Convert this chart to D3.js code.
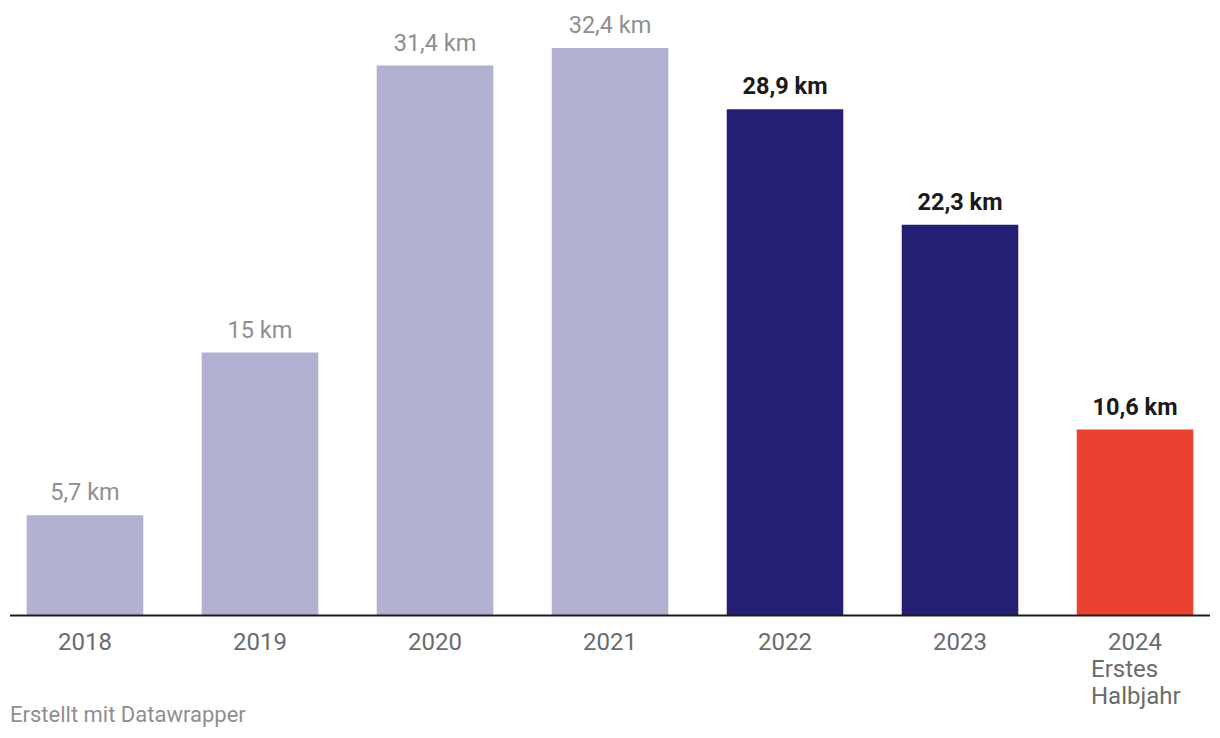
<!DOCTYPE html>
<html><head><meta charset="utf-8">
<script src="https://cdn.jsdelivr.net/npm/d3@7"></script>
<style>body{margin:0;background:#fff}svg{display:block;font-family:Roboto,sans-serif}</style>
</head><body><svg id="c" width="1220" height="738"></svg>
<script>
const years = ["2018","2019","2020","2021","2022","2023","2024"];
const values = [5.7, 15, 31.4, 32.4, 28.9, 22.3, 10.6];
const valueLabels = ["5,7 km","15 km","31,4 km","32,4 km","28,9 km","22,3 km","10,6 km"];
const groups = ["past","past","past","past","recent","recent","current"];
const subLabels = {"2024": ["Erstes","Halbjahr"]};
const colors = {past:"#b3b1d1", recent:"#251f73", current:"#e94230"};

const svg = d3.select("#c");
const x = d3.scaleBand().domain(years).range([10,1210]).paddingInner(0.334).paddingOuter(0.0955);
const y = d3.scaleLinear().domain([0,32.4]).range([615,48]);

svg.selectAll("rect.bar").data(years).enter().append("rect")
  .attr("class","bar")
  .attr("x",d=>x(d)).attr("width",x.bandwidth())
  .attr("y",(d,i)=>y(values[i])).attr("height",(d,i)=>y(0)-y(values[i]))
  .attr("fill",(d,i)=>colors[groups[i]]);

svg.selectAll("text.val").data(years).enter().append("text")
  .attr("x",d=>x(d)+x.bandwidth()/2).attr("y",(d,i)=>y(values[i])-15)
  .attr("text-anchor","middle").attr("font-size",23.5)
  .attr("font-weight",(d,i)=>groups[i]==="past"?400:700)
  .attr("fill",(d,i)=>groups[i]==="past"?"#8f8f8f":"#1a1a1a")
  .text((d,i)=>valueLabels[i]);

svg.append("line").attr("x1",10).attr("x2",1210).attr("y1",615.5).attr("y2",615.5)
  .attr("stroke","#1a1a1a").attr("stroke-width",2);

svg.selectAll("text.tick").data(years).enter().append("text")
  .attr("x",d=>x(d)+x.bandwidth()/2).attr("y",650)
  .attr("text-anchor","middle").attr("font-size",24).attr("fill","#6b6b6b")
  .text(d=>d);

Object.entries(subLabels).forEach(([yr,lines])=>{
  const cx = x(yr)+x.bandwidth()/2;
  lines.forEach((l,k)=>{
    svg.append("text").attr("x",cx-44).attr("y",677+k*27)
      .attr("font-size",24).attr("fill","#6b6b6b").text(l);
  });
});

svg.append("text").attr("x",10).attr("y",722).attr("font-size",22)
  .attr("fill","#8f8f8f").text("Erstellt mit Datawrapper");
</script></body></html>
